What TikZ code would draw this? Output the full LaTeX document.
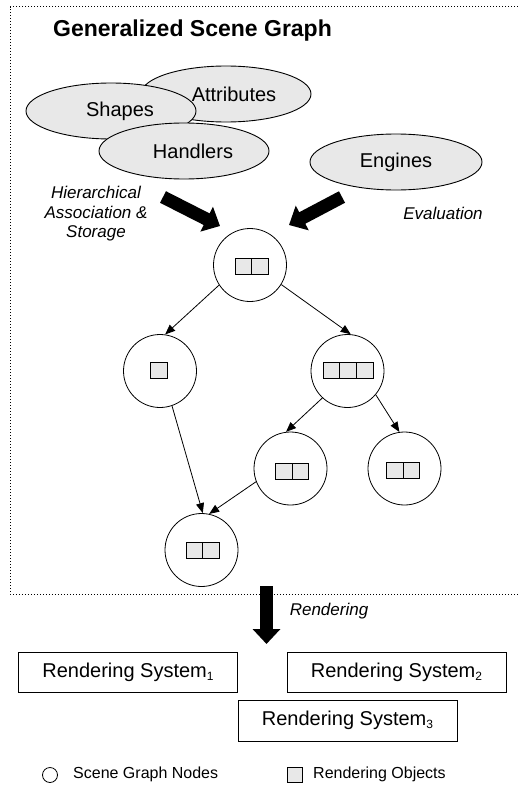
\documentclass[tikz,border=0pt]{standalone}
\usepackage{fontspec}
\setmainfont{Liberation Sans}
\usetikzlibrary{shapes.geometric,arrows.meta}
\definecolor{objgray}{HTML}{E8E8E8}
\newcommand{\sysidx}[1]{\raisebox{-3pt}{\fontsize{12}{12}\selectfont #1}}
\tikzset{
  blob/.style={ellipse, draw=black, line width=0.9pt, fill=objgray, minimum width=170pt, minimum height=56pt, inner sep=0pt},
  blobtext/.style={font=\fontsize{20}{24}\selectfont},
  sgnode/.style={circle, draw=black, line width=0.8pt, fill=white, minimum size=73pt, inner sep=0pt},
  robj/.style={rectangle, draw=black, line width=0.8pt, fill=objgray, minimum width=16.5pt, minimum height=16.5pt, inner sep=0pt},
  link/.style={line width=0.8pt, -{Triangle[length=10pt,width=8pt]}},
  bigarrow/.style={line width=13pt, -{Triangle[length=15pt,width=27pt]}},
  rsbox/.style={rectangle, draw=black, line width=0.8pt, minimum width=219pt, minimum height=40pt, inner sep=0pt, font=\fontsize{20}{24}\selectfont},
  itlabel/.style={font=\fontsize{17}{19.5}\selectfont\itshape, align=center, inner sep=0pt},
  legendtext/.style={font=\fontsize{16}{19}\selectfont, anchor=west, inner sep=0pt},
  frame/.style={line width=1pt, dash pattern=on 1.2pt off 1.8pt}
}
\begin{document}
\begin{tikzpicture}[x=1pt, y=-1pt]
\useasboundingbox (0,0) rectangle (518,792);

% dotted frame around the scene graph
\draw[frame] (518,7) -- (10,7) -- (10,594) -- (518,594);

% title
\node[font=\fontsize{23}{27}\selectfont\bfseries, anchor=base west, inner sep=0pt] (title) at (53,37) {Generalized Scene Graph};

% input ellipses
\node[blob, label={[blobtext, xshift=8pt]center:Attributes}] (attr) at (226,94) {};
\node[blob, label={[blobtext, xshift=9pt]center:Shapes}] (shapes) at (111,111) {};
\node[blob, label={[blobtext, xshift=9pt]center:Handlers}] (handlers) at (184,151) {};
\node[blob, minimum width=172pt, label={[blobtext]center:Engines}] (engines) at (396,162) {};

% side labels
\node[itlabel] (hier) at (96,214) {Hierarchical\\Association \&\\Storage};
\node[itlabel] (eval) at (443,213) {Evaluation};

% thick input arrows
\coordinate (hinA) at (163,197);
\coordinate (hinB) at (220,226);
\coordinate (einA) at (342,197);
\coordinate (einB) at (289,225);
\draw[bigarrow] (hinA) -- (hinB);
\draw[bigarrow] (einA) -- (einB);

% scene graph nodes
\node[sgnode] (root) at (250,265) {};
\node[sgnode] (lc) at (160,371) {};
\node[sgnode] (rc) at (347.5,371) {};
\node[sgnode] (mid) at (290.5,468.5) {};
\node[sgnode] (leaf) at (404.5,468.5) {};
\node[sgnode] (bot) at (201.5,550) {};

% rendering objects held by the nodes
\node[robj] (r1) at (243.25,266.5) {};
\node[robj] (r2) at (259.75,266.5) {};
\node[robj] (l1) at (159,370.5) {};
\node[robj] (c1) at (331.3,370.5) {};
\node[robj] (c2) at (348,370.5) {};
\node[robj] (c3) at (364.7,370.5) {};
\node[robj] (m1) at (284,471.5) {};
\node[robj] (m2) at (300.5,471.5) {};
\node[robj] (f1) at (394.8,470.5) {};
\node[robj] (f2) at (411.3,470.5) {};
\node[robj] (b1) at (194.25,550.5) {};
\node[robj] (b2) at (210.75,550.5) {};

% hierarchy links
\draw[link] (root.213) -- (lc.82);
\draw[link] (root.-32) -- (rc.85);
\draw[link] (rc.227) -- (mid.97);
\draw[link] (rc.-40) -- (leaf.98);
\draw[link] (lc.-71) -- (bot.88);
\draw[link] (mid.201) -- (bot.78);

% rendering output
\coordinate (outA) at (266.5,586);
\coordinate (outB) at (266.5,644);
\draw[bigarrow] (outA) -- (outB);
\node[itlabel] (rend) at (329,611) {Rendering};

\node[rsbox] (rs1) at (128,672) {Rendering System\sysidx{1}};
\node[rsbox] (rs2) at (396.5,672) {Rendering System\sysidx{2}};
\node[rsbox, minimum height=41pt] (rs3) at (347.5,720.5) {Rendering System\sysidx{3}};

% legend
\node[circle, draw=black, line width=0.8pt, minimum size=15pt, inner sep=0pt] (legc) at (50,775) {};
\node[legendtext] (legct) at (73,774) {Scene Graph Nodes};
\node[robj, minimum width=15pt, minimum height=15pt] (legr) at (294.5,774.5) {};
\node[legendtext] (legrt) at (313,774) {Rendering Objects};
\end{tikzpicture}
\end{document}
